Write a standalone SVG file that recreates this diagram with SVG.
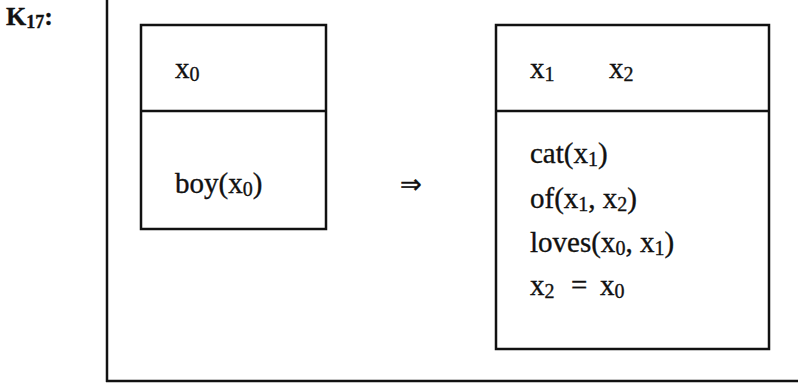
<svg xmlns="http://www.w3.org/2000/svg" width="798" height="383" viewBox="0 0 798 383">
<style>
text{font-family:"Liberation Serif","Times New Roman",serif;font-size:29px;fill:#111;stroke:#111;stroke-width:0.35}
.s{font-size:20px}
.k{font-size:26px;font-weight:bold}
.ks{font-size:18px}
.box{fill:none;stroke:#111;stroke-width:2.5}
.ln{stroke:#111;stroke-width:2.5;fill:none}
</style>
<rect width="798" height="383" fill="#fff"/>
<g id="frame">
<line class="ln" x1="107" y1="0" x2="107" y2="382"/>
<line class="ln" x1="106" y1="381" x2="798" y2="381"/>
<text class="k" x="6" y="25">K<tspan class="ks" dy="3">17</tspan><tspan dy="-3">:</tspan></text>
</g>
<g id="left-box">
<rect class="box" x="141" y="25" width="185" height="204"/>
<line class="ln" x1="141" y1="111" x2="326" y2="111"/>
<text x="175" y="78">x<tspan class="s" dy="3">0</tspan></text>
<text x="175" y="193">boy(x<tspan class="s" dy="3">0</tspan><tspan dy="-3">)</tspan></text>
</g>
<g id="connectors">
<text x="400" y="193" style="font-size:26px">⇒</text>
</g>
<g id="right-box">
<rect class="box" x="496" y="25" width="273" height="324"/>
<line class="ln" x1="496" y1="111" x2="769" y2="111"/>
<text x="530" y="78">x<tspan class="s" dy="3">1</tspan></text>
<text x="609" y="78">x<tspan class="s" dy="3">2</tspan></text>
<text x="530" y="163">cat(x<tspan class="s" dy="3">1</tspan><tspan dy="-3">)</tspan></text>
<text x="530" y="208">of(x<tspan class="s" dy="3">1</tspan><tspan dy="-3">, x</tspan><tspan class="s" dy="3">2</tspan><tspan dy="-3">)</tspan></text>
<text x="530" y="252">loves(x<tspan class="s" dy="3">0</tspan><tspan dy="-3">, x</tspan><tspan class="s" dy="3">1</tspan><tspan dy="-3">)</tspan></text>
<text x="530" y="295">x<tspan class="s" dy="3">2</tspan><tspan x="571" dy="-3">=</tspan><tspan x="600">x</tspan><tspan class="s" dy="3">0</tspan></text>
</g>
</svg>
